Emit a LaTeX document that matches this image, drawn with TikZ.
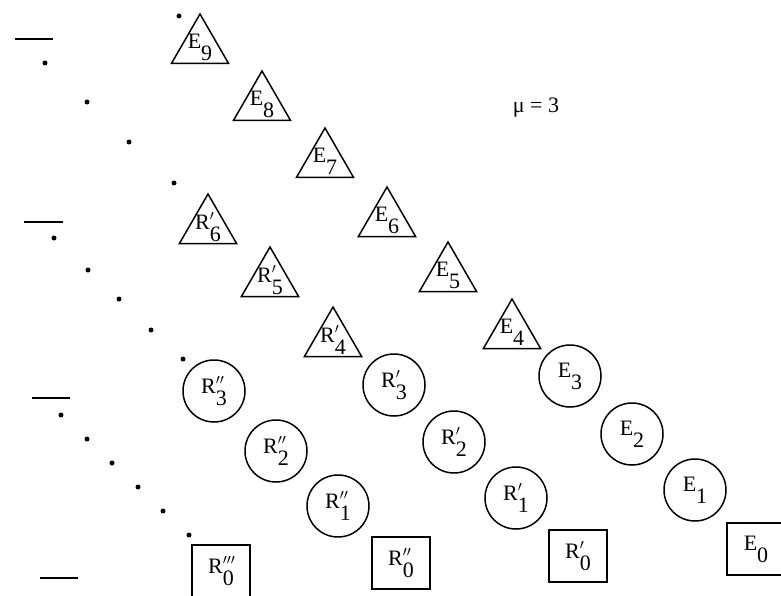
\documentclass[tikz,border=0pt]{standalone}
\usepackage{fontspec}
\setmainfont{Liberation Serif}
\usetikzlibrary{shapes.geometric}
\newcommand\lbl[3]{#1\rlap{\raisebox{0.05em}{$^{#2}$}}\raisebox{-0.55em}{#3}}
\begin{document}
\begin{tikzpicture}[x=1pt,y=-1pt,
  shp/.style={draw,line width=1.5pt,inner sep=0pt,font=\fontsize{22}{24}\selectfont},
  tri/.style={shp,regular polygon,regular polygon sides=3,minimum size=66pt},
  txt/.style={inner sep=0pt,font=\fontsize{22}{24}\selectfont},
  circ/.style={shp,circle,minimum size=62pt},
  sq/.style={shp,rectangle,minimum width=58pt,minimum height=52pt},
  barline/.style={line width=2.2pt},
  pt/.style={fill=black}]
\useasboundingbox (0,0) rectangle (781,596);
% triangles (outline nodes, then their labels)
\node[tri] (E9) at (200,47) {};
\node[tri] (E8) at (262,104) {};
\node[tri] (E7) at (325,161) {};
\node[tri] (E6) at (387,220) {};
\node[tri] (E5) at (448,275) {};
\node[tri] (E4) at (512,332) {};
\node[tri] (R6p) at (208,227) {};
\node[tri] (R5p) at (270,280) {};
\node[tri] (R4p) at (333,340) {};
\node[txt] (E9t) at (E9) {\lbl{E}{}{9}};
\node[txt] (E8t) at (E8) {\lbl{E}{}{8}};
\node[txt] (E7t) at (E7) {\lbl{E}{}{7}};
\node[txt] (E6t) at (E6) {\lbl{E}{}{6}};
\node[txt] (E5t) at (E5) {\lbl{E}{}{5}};
\node[txt] (E4t) at (E4) {\lbl{E}{}{4}};
\node[txt] (R6pt) at (R6p) {\lbl{R}{\prime}{6}};
\node[txt] (R5pt) at (R5p) {\lbl{R}{\prime}{5}};
\node[txt] (R4pt) at (R4p) {\lbl{R}{\prime}{4}};
% circles
\node[circ] (R3pp) at (214,391) {\lbl{R}{\prime\prime}{3}};
\node[circ] (R2pp) at (276,451) {\lbl{R}{\prime\prime}{2}};
\node[circ] (R1pp) at (338,506) {\lbl{R}{\prime\prime}{1}};
\node[circ] (R3p) at (394,385) {\lbl{R}{\prime}{3}};
\node[circ] (R2p) at (454,442) {\lbl{R}{\prime}{2}};
\node[circ] (R1p) at (516,498) {\lbl{R}{\prime}{1}};
\node[circ] (E3) at (570,376) {\lbl{E}{}{3}};
\node[circ] (E2) at (632,434) {\lbl{E}{}{2}};
\node[circ] (E1) at (695,490) {\lbl{E}{}{1}};
% squares
\node[sq] (R0ppp) at (221,571) {\lbl{R}{\prime\prime\prime}{0}};
\node[sq] (R0pp) at (401,563) {\lbl{R}{\prime\prime}{0}};
\node[sq] (R0p) at (578,556) {\lbl{R}{\prime}{0}};
\node[sq] (E0) at (756,549) {\lbl{E}{}{0}};
% label
\node[txt] (mu) at (536,108) {μ = 3};
% bars
\coordinate (b1a) at (15,39);  \coordinate (b1b) at (53,39);
\coordinate (b2a) at (24,222); \coordinate (b2b) at (63,222);
\coordinate (b3a) at (32,398); \coordinate (b3b) at (70,398);
\coordinate (b4a) at (40,578); \coordinate (b4b) at (78,578);
\draw[barline] (b1a) -- (b1b);
\draw[barline] (b2a) -- (b2b);
\draw[barline] (b3a) -- (b3b);
\draw[barline] (b4a) -- (b4b);
% dots
\foreach \p in {(179,16),(45,63),(87,102),(129,142),(174,183),
                (54,238),(88,270),(119,299),(151,330),(183,359),
                (61,415),(87,439),(112,463),(138,487),(163,511),(189,535)}
  \fill[pt] \p circle (2.5pt);
\end{tikzpicture}
\end{document}
